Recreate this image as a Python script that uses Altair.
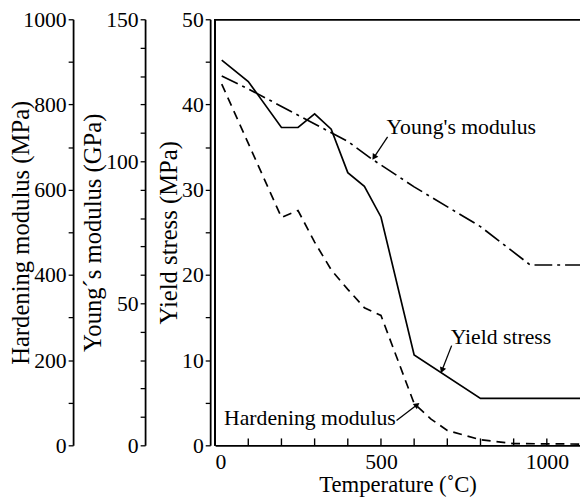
import math
import altair as alt
import pandas as pd

# ---------------- data ----------------
temp_yield = [20, 100, 200, 250, 300, 350, 400, 450, 500, 600, 800, 1100]
yield_stress = [45.2, 42.7, 37.3, 37.3, 38.9, 37.1, 32.0, 30.4, 26.8, 10.6, 5.5, 5.5]

temp_young = [20, 100, 400, 470, 600, 800, 950, 1100]
young_modulus = [130, 125.5, 107, 101, 91, 77, 63.5, 63.5]

temp_hard = [20, 200, 250, 300, 350, 400, 450, 500, 600, 650, 700, 800, 900, 1100]
hardening_modulus = [848, 535, 551, 477, 412, 366, 323, 305, 98, 62, 35, 13, 4, 3]

# annotations (in temperature / yield-stress units)
label_text = ["Young's modulus", "Yield stress", "Hardening modulus"]
label_t = [517, 710, 27]
label_y = [37.4, 12.7, 3.2]
arrow_t_start = [520, 713, 547]
arrow_y_start = [36.2, 11.7, 2.9]
arrow_t_end = [479, 684, 609]
arrow_y_end = [33.8, 8.8, 4.75]

x_ticks_minor = list(range(100, 1001, 100))
x_labels = [0, 500, 1000]
yield_ticks = list(range(0, 51, 5))
young_ticks = list(range(0, 151, 10))
hard_ticks = list(range(0, 1001, 100))

# ---------------- layout ----------------
W, H = 370, 432
FONT = "Liberation Serif"
px_per_t = W / 1100
px_per_y = H / 50

df_yield = pd.DataFrame({"T": temp_yield, "Y": yield_stress})
df_young = pd.DataFrame({"T": temp_young, "E": young_modulus})
df_hard = pd.DataFrame({"T": temp_hard, "Hm": hardening_modulus})
df_text = pd.DataFrame({"T": label_t, "Y": label_y, "label": label_text})
df_xticks = pd.DataFrame({"T": x_ticks_minor})

rows = []
heads = []
for i in range(len(label_text)):
    rows.append({"T": arrow_t_start[i], "Y": arrow_y_start[i], "id": i, "o": 0})
    rows.append({"T": arrow_t_end[i], "Y": arrow_y_end[i], "id": i, "o": 1})
    dx = (arrow_t_end[i] - arrow_t_start[i]) * px_per_t
    dy = -(arrow_y_end[i] - arrow_y_start[i]) * px_per_y
    ang = math.degrees(math.atan2(dx, -dy)) % 360
    heads.append({"T": arrow_t_end[i], "Y": arrow_y_end[i], "ang": ang})
df_arrow = pd.DataFrame(rows)
df_heads = pd.DataFrame(heads)

x_scale = alt.Scale(domain=[0, 1100], nice=False)

x_axis_main = alt.Axis(
    orient="bottom", values=x_labels, ticks=False, tickSize=0, labelPadding=6,
    format="d", title="Temperature (˚C)", titlePadding=2, titleFontSize=23,
)
y_axis_yield = alt.Axis(
    orient="left", offset=5, values=yield_ticks, format="d",
    labelExpr="datum.value % 10 === 0 ? datum.label : ''",
    title="Yield stress (MPa)", titlePadding=0,
)

X_main = alt.X("T:Q", scale=x_scale, axis=x_axis_main, title="Temperature (˚C)")
Y_main = alt.Y("Y:Q", scale=alt.Scale(domain=[0, 50], nice=False), axis=y_axis_yield,
               title="Yield stress (MPa)")

yield_line = alt.Chart(df_yield).mark_line(color="black", strokeWidth=1.7).encode(
    x=X_main, y=Y_main, order="T:Q"
)
frame_left = alt.Chart(df_yield).mark_rule(color="black", strokeWidth=1.7).encode(
    x=alt.value(0)
)
inner_ticks = alt.Chart(df_xticks).mark_rule(color="black", strokeWidth=1.4).encode(
    x=X_main, y=alt.value(H), y2=alt.value(H - 7)
)
texts = alt.Chart(df_text).mark_text(
    align="left", baseline="middle", font=FONT, fontSize=22, color="black"
).encode(x=X_main, y=Y_main, text="label:N")
arrows = alt.Chart(df_arrow).mark_line(color="black", strokeWidth=1.3).encode(
    x=X_main, y=Y_main, detail="id:N", order="o:Q"
)
arrow_heads = alt.Chart(df_heads).mark_point(
    shape="triangle-up", filled=True, size=45, color="black", opacity=1
).encode(x=X_main, y=Y_main, angle=alt.Angle("ang:Q", scale=None))

yield_group = alt.layer(yield_line, frame_left, inner_ticks, arrows, arrow_heads, texts)

young_line = alt.Chart(df_young).mark_line(
    color="black", strokeWidth=1.7, strokeDash=[18, 5, 3, 5]
).encode(
    x=alt.X("T:Q", scale=x_scale, axis=alt.Axis(
        orient="top", offset=0, labels=False, domain=False, ticks=False, title=""),
        title=""),
    y=alt.Y("E:Q", scale=alt.Scale(domain=[0, 150], nice=False), axis=alt.Axis(
        orient="left", offset=71, values=young_ticks, format="d",
        labelExpr="datum.value % 50 === 0 ? datum.label : ''",
        title="Young´s modulus (GPa)", titlePadding=0), title="Young´s modulus (GPa)"),
    order="T:Q",
)

hard_line = alt.Chart(df_hard).mark_line(
    color="black", strokeWidth=1.7, strokeDash=[9, 6]
).encode(
    x=alt.X("T:Q", scale=x_scale, axis=alt.Axis(
        orient="top", offset=0, labels=False, ticks=False, domain=True, title=""), title=""),
    y=alt.Y("Hm:Q", scale=alt.Scale(domain=[0, 1000], nice=False), axis=alt.Axis(
        orient="left", offset=144, values=hard_ticks, format="d",
        labelExpr="datum.value % 200 === 0 ? datum.label : ''",
        title="Hardening modulus (MPa)", titlePadding=-11), title="Hardening modulus (MPa)"),
    order="T:Q",
)

chart = alt.layer(yield_group, young_line, hard_line).resolve_scale(
    y="independent"
).resolve_axis(x="independent", y="independent").properties(
    width=W, height=H,
    autosize=alt.AutoSizeParams(type="none"),
    padding={"left": 210, "top": 8, "right": 0, "bottom": 52},
    background="white",
).configure_view(stroke=None).configure_axis(
    grid=False,
    domainColor="black", domainWidth=1.8,
    tickColor="black", tickWidth=1.3, tickSize=5,
    labelColor="black", labelFont=FONT, labelFontSize=22, labelPadding=2,
    titleColor="black", titleFont=FONT, titleFontSize=25, titleFontWeight="normal",
)

chart.save("out.html", embed_options={"renderer": "svg", "actions": False})
